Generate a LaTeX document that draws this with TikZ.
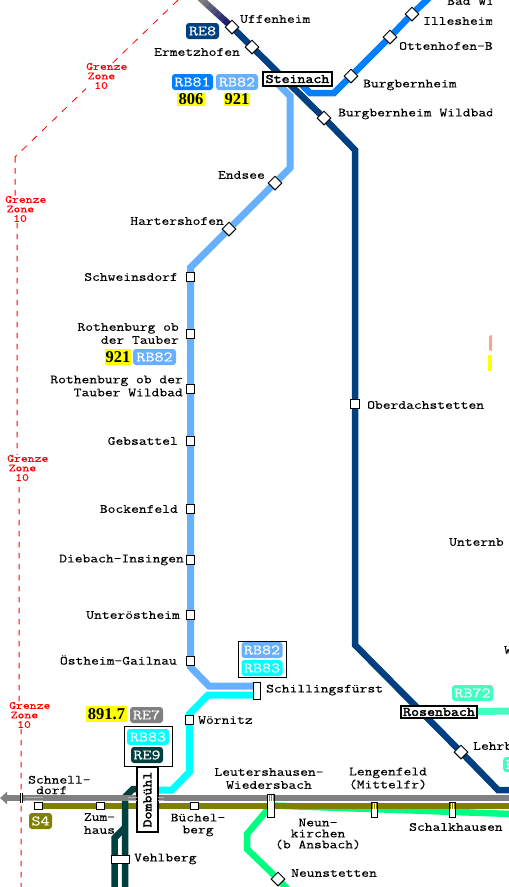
\documentclass[tikz,border=0pt]{standalone}
\usepackage{fontspec}
\usetikzlibrary{shapes.geometric,arrows.meta,calc}
\newfontfamily\mono[FakeStretch=1.21,FakeBold=0.25]{Latin Modern Mono}
\newfontfamily\monob[FakeStretch=1.19,FakeBold=2.6]{Latin Modern Mono}
\newfontfamily\numf{Liberation Serif}
\definecolor{cre}{HTML}{004080}
\definecolor{crba}{HTML}{0080FF}
\definecolor{crbb}{HTML}{66B0FF}
\definecolor{cyanl}{HTML}{00FFFF}
\definecolor{cte}{HTML}{004040}
\definecolor{cgr}{HTML}{808080}
\definecolor{col}{HTML}{808000}
\definecolor{cgn}{HTML}{00FF80}
\definecolor{cmi}{HTML}{40FFC0}
\definecolor{cyl}{HTML}{FFFF00}
\definecolor{csa}{HTML}{F0A890}
\pgfdeclarelayer{bg}
\pgfsetlayers{bg,main}
\tikzset{
  rail/.style={line width=#1,line join=miter},
  rail/.default=6.5,
  tx/.style={font=\mono\fontsize{12.5}{#1}\selectfont,inner sep=0pt,text=black},
  tx/.default=13,
  sq/.style={draw=black,line width=1pt,fill=white,inner sep=0pt,minimum width=8.5,minimum height=8.5},
  dia/.style={diamond,draw=black,line width=1pt,fill=white,inner sep=0pt,minimum width=14,minimum height=14},
  bar/.style={draw=black,line width=1pt,fill=white,inner sep=0pt},
  hub/.style={draw=black,line width=1.2pt,fill=white,inner sep=0pt,text=black,font=\monob\fontsize{13}{13}\selectfont},
  lbl/.style={fill=#1,rounded corners=3pt,inner sep=0pt,text=white,font=\mono\fontsize{14.5}{14.5}\selectfont},
  num/.style={fill=cyl,inner sep=0pt,text=black,font=\numf\bfseries\fontsize{16.5}{17}\selectfont},
  frame/.style={draw=black,line width=1pt,fill=white,inner sep=0pt},
  zone/.style={font=\mono\fontsize{10.8}{9.5}\selectfont,text=red,fill=white,inner sep=0pt,align=left,anchor=west},
  bord/.style={red,line width=1pt,dash pattern=on 5.5pt off 5.5pt},
  bordd/.style={red,line width=0.8pt,dash pattern=on 7pt off 7pt}
}
\begin{document}
\begin{tikzpicture}[x=1pt,y=-1pt]
\useasboundingbox (0,0) rectangle (509,887);
\clip (0,0) rectangle (509,887);
% free ends and bends
\coordinate (tA) at (200,-2);
\coordinate (b1) at (355,150);
\coordinate (b2) at (355,645);
\coordinate (b3) at (498,790);
\coordinate (e1) at (512,790);
\coordinate (a0) at (431,-4);
\coordinate (a1) at (334,93);
\coordinate (a2) at (310,93);
\coordinate (a3) at (301,84);
\coordinate (c0) at (277,83);
\coordinate (c1) at (290,96);
\coordinate (c2) at (290,168);
\coordinate (c3) at (190.5,267.5);
\coordinate (c4) at (190.5,667);
\coordinate (c5) at (209,686);
\coordinate (c6) at (257,686);
\coordinate (d1) at (257,695);
\coordinate (d2) at (208,695);
\coordinate (d3) at (189.5,714);
\coordinate (d4) at (189.5,772);
\coordinate (d5) at (172,790);
\coordinate (d6) at (150,790);
\coordinate (f1) at (147,789);
\coordinate (f2) at (133,789);
\coordinate (f3) at (125,797);
\coordinate (f4) at (125,892);
\coordinate (f5) at (114.5,892);
\coordinate (f6) at (114.5,838);
\coordinate (f7) at (125,827.5);
\coordinate (g0) at (512,798);
\coordinate (g1) at (0,798);
\coordinate (o1) at (512,806);
\coordinate (n1) at (512,814);
\coordinate (n2) at (247,834);
\coordinate (n3) at (247,849);
\coordinate (n4) at (292,894);
\coordinate (m1) at (512,711);
\coordinate (r0) at (178,0);
\coordinate (r1) at (15,157);
\coordinate (r2) at (15,198);
\coordinate (r3) at (17,222);
\coordinate (r4) at (17,455);
\coordinate (r5) at (19,480);
\coordinate (r6) at (19,700);
\coordinate (r7) at (21,728);
\coordinate (r8) at (21,890);
% stations
\node[dia] (uff) at (232,27) {};
\node[dia] (erm) at (252,47) {};
\node[dia] (bur) at (351,76) {};
\node[dia] (ott) at (390,37) {};
\node[dia] (ill) at (412,14) {};
\node[dia] (bbw) at (324,118) {};
\node[dia] (end) at (275,183) {};
\node[dia] (har) at (229,229) {};
\node[dia] (leh) at (461,752) {};
\node[dia] (nst) at (278,879) {};
\node[sq] (swd) at (190.5,277) {};
\node[sq] (rot) at (190.5,334) {};
\node[sq] (rwb) at (190.5,389) {};
\node[sq] (geb) at (190.5,441) {};
\node[sq] (boc) at (190.5,509) {};
\node[sq] (die) at (190.5,560) {};
\node[sq] (unt) at (190.5,615) {};
\node[sq] (ost) at (190.5,661) {};
\node[sq] (wor) at (189.5,720) {};
\node[sq] (obe) at (355,404) {};
\node[sq,minimum height=7.5] (sdf) at (38.5,806) {};
\node[sq,minimum height=7.5] (zum) at (100.5,806) {};
\node[sq,minimum height=7.5] (bue) at (194.5,806) {};
\node[bar,minimum width=7.5,minimum height=17] (sch) at (257,690.5) {};
\node[bar,minimum width=7,minimum height=23] (lei) at (271,805.5) {};
\node[bar,minimum width=6.5,minimum height=15] (nkn) at (374.5,809.5) {};
\node[bar,minimum width=6.5,minimum height=15] (sha) at (452.5,809.5) {};
\node[bar,minimum width=18,minimum height=8] (veh) at (120,859) {};
\node[hub,minimum width=69,minimum height=14] (ste) at (297.5,79) {Steinach};
\node[hub,minimum width=76,minimum height=12] (ros) at (439,712) {Rosenbach};
\node[hub,rotate=90,minimum width=65,minimum height=21] (dom) at (147.5,799.5) {Dombühl};
% hatches on the gray line and on the bars
\foreach \y in {797,800}{
  \draw[cgr!60!white,line width=0.6pt] (25,\y) -- (43,\y) (128,\y) -- (137,\y) (158,\y) -- (164,\y);
}
\foreach \x in {269,271,273}{\draw[cgr,line width=1pt] (\x,795) -- (\x,801);}
\foreach \x in {372.75,374.5,376.25}{\draw[col,line width=0.9pt] (\x,802.5) -- (\x,809);}
\foreach \x in {450.75,452.5,454.25}{\draw[col,line width=0.9pt] (\x,802.5) -- (\x,809);}
\draw[white,line width=2.6pt] (21.6,793) -- (21.6,803);
\draw[black,line width=0.9pt] (20.5,793) -- (20.5,803) (22.7,793) -- (22.7,803);
% line symbols
\node[lbl=cre,minimum width=33,minimum height=16] (lre8) at (202.5,31) {RE8};
\node[lbl=crba,minimum width=41,minimum height=16] (lrb81) at (192.5,82) {RB81};
\node[lbl=crbb,minimum width=42,minimum height=16] (lrb82) at (237,82) {RB82};
\node[num,minimum width=28,minimum height=13] (n806) at (191,99.5) {806};
\node[num,minimum width=26,minimum height=13] (n921) at (237,99.5) {921};
\node[num,minimum width=26,minimum height=16] (n921b) at (118,357) {921};
\node[lbl=crbb,minimum width=43,minimum height=16] (lrb82b) at (154.5,357) {RB82};
\node[frame,minimum width=48,minimum height=36] (fa) at (262,659) {};
\node[lbl=crbb,minimum width=41,minimum height=16] (lrb82c) at (262,650) {RB82};
\node[lbl=cyanl,minimum width=41,minimum height=16] (lrb83) at (262,668) {RB83};
\node[num,minimum width=41,minimum height=16] (n891) at (106.5,714) {891.7};
\node[lbl=cgr,minimum width=33,minimum height=16] (lre7) at (146.5,715) {RE7};
\node[frame,minimum width=48,minimum height=40] (fb) at (148,746) {};
\node[lbl=cyanl,minimum width=42,minimum height=16] (lrb83b) at (148,737) {RB83};
\node[lbl=cte,minimum width=32,minimum height=16] (lre9) at (147,755) {RE9};
\node[lbl=col,minimum width=23,minimum height=16] (ls4) at (40.5,821) {S4};
\node[lbl=cmi,minimum width=41,minimum height=16] (lrb72) at (472.5,693) {RB72};
\node[lbl=cmi,minimum width=24,minimum height=15,anchor=west,align=left,text width=24] (lcut) at (503,764.5) {\hspace{2.5pt}R};
\fill[csa] (489,336) -- (492,335) -- (492,351) -- (489,350) -- cycle;
\fill[cyl] (488,355) rectangle (492,371);
% station names
\begin{scope}
\clip (0,0) rectangle (492,887);
\node[tx,anchor=west] (tbad) at (447,1) {Bad Wi};
\node[tx,anchor=west] (till) at (423,21) {Illesheim};
\node[tx,anchor=west] (tott) at (399,46) {Ottenhofen-B};
\node[tx,anchor=west] (tbbw) at (338,114) {Burgbernheim Wildbad};
\end{scope}
\node[tx,anchor=west] (tuff) at (240,19) {Uffenheim};
\node[tx,anchor=west] (term) at (154,52) {Ermetzhofen};
\node[tx,anchor=west] (tbur) at (363,85) {Burgbernheim};
\node[tx,anchor=east] (tend) at (265,175) {Endsee};
\node[tx,anchor=east] (thar) at (224,221) {Hartershofen};
\node[tx,anchor=east] (tswd) at (178,277) {Schweinsdorf};
\node[tx,anchor=east,align=right] (trot) at (179,333.5) {Rothenburg ob\\der Tauber\hspace{3pt}};
\node[tx,anchor=east,align=right] (trwb) at (183,386) {Rothenburg ob der\\Tauber Wildbad\hspace{5.5pt}};
\node[tx,anchor=east] (tgeb) at (178,441) {Gebsattel};
\node[tx,anchor=east] (tboc) at (178,509) {Bockenfeld};
\node[tx,anchor=east] (tdie) at (184,560) {Diebach-Insingen};
\node[tx,anchor=east] (tunt) at (180,615) {Unteröstheim};
\node[tx,anchor=east] (tost) at (177,660) {Östheim-Gailnau};
\node[tx,anchor=west] (twor) at (198,720) {Wörnitz};
\node[tx,anchor=west] (tsch) at (266,690) {Schillingsfürst};
\node[tx,anchor=west] (tobe) at (367,405) {Oberdachstetten};
\node[tx,anchor=west] (tunb) at (449,542) {Unternb};
\node[tx,anchor=west] (tw) at (504,650) {W};
\node[tx,anchor=west] (tleh) at (473,746) {Lehrb};
\node[tx=10.5,anchor=west,align=left] (tsdf) at (28,785) {Schnell-\\\hspace{8pt}dorf};
\node[tx=13,align=center] (tzum) at (99.5,823.5) {Zum-\\haus};
\node[tx=12,align=center] (tbue) at (198,825) {Büchel-\\berg};
\node[tx=13,align=center] (tlei) at (269,778.5) {Leutershausen-\\Wiedersbach};
\node[tx=13,align=center] (tlen) at (388,778.5) {Lengenfeld\\(Mittelfr)};
\node[tx=11,align=center] (tnkn) at (318,834) {Neun-\\kirchen\\(b Ansbach)};
\node[tx,anchor=west] (tsha) at (409,827) {Schalkhausen};
\node[tx,anchor=west] (tnst) at (291,873) {Neunstetten};
\node[tx,anchor=west] (tveh) at (134,859) {Vehlberg};
\node[zone] (z1) at (86,76) {Grenze\\\hspace{1.5pt}Zone\\\hspace{8pt}10};
\node[zone] (z2) at (5,209) {Grenze\\\hspace{1.5pt}Zone\\\hspace{8pt}10};
\node[zone] (z3) at (7,468) {Grenze\\\hspace{1.5pt}Zone\\\hspace{8pt}10};
\node[zone] (z4) at (9,715) {Grenze\\\hspace{1.5pt}Zone\\\hspace{8pt}10};
% lines, under everything else
\begin{pgfonlayer}{bg}
\fill[white] (0,0) rectangle (509,887);
\clip (0,0) rectangle (509,887);
\draw[bordd] (r0) -- (r1);
\draw[bord] (r1) -- (r2) -- (r3) -- (r4) -- (r5) -- (r6) -- (r7) -- (r8);
% RE8 top fade
\foreach \i [evaluate=\i as \pc using {\i*100/8}, evaluate=\i as \qa using {\i/8}, evaluate=\i as \qb using {(\i+1.05)/8}] in {0,...,7}{
  \colorlet{tmpc}{blue!45!black!\pc!gray}
  \draw[line width=6.5pt,color=tmpc] ($(tA)!\qa!(uff.center)$) -- ($(tA)!\qb!(uff.center)$);
}
\draw[rail=7pt,crbb] (c0) -- (c1) -- (c2) -- (end.center) -- (har.center) -- (c3) -- (swd.center) -- (rot.center) -- (rwb.center) -- (geb.center) -- (boc.center) -- (die.center) -- (unt.center) -- (ost.center) -- (c4) -- (c5) -- (c6);
\draw[rail=7pt,cyanl] (d1) -- (d2) -- (d3) -- (wor.center) -- (d4) -- (d5) -- (d6);
\draw[rail=6.5pt,crba] (a0) -- (ill.center) -- (ott.center) -- (bur.center) -- (a1) -- (a2) -- (a3);
\draw[rail=6.5pt,cre] (uff.center) -- (erm.center) -- (bbw.center) -- (b1) -- (obe.center) -- (b2) -- (leh.center) -- (b3) -- (e1);
\draw[rail=7pt,cmi] (ros.center) -- (m1);
\draw[rail=6.5pt,cgn] (n1) -- (lei.center) -- (n2) -- (n3) -- (nst.center) -- (n4);
\draw[rail=6.5pt,col] (sdf.center) -- (o1);
\draw[rail=6.5pt,cte] (f1) -- (f2) -- (f3) -- (f4);
\draw[rail=6.5pt,cte] (f5) -- (f6) -- (f7);
\draw[rail=6.5pt,cgr,-{Triangle[length=7pt,width=12pt]}] (g0) -- (g1);
\end{pgfonlayer}
\end{tikzpicture}
\end{document}
